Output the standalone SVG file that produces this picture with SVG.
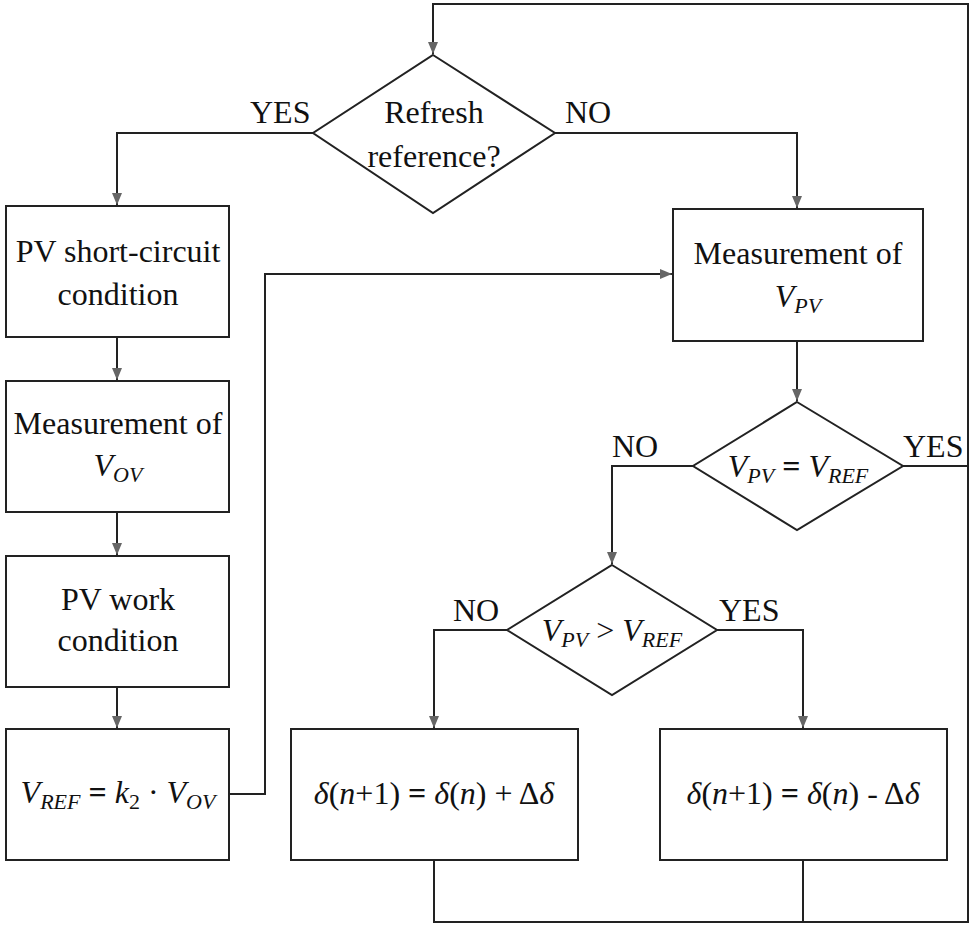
<svg xmlns="http://www.w3.org/2000/svg" width="975" height="928" viewBox="0 0 975 928">
<style>
.box{fill:#fff;stroke:#222;stroke-width:2}
.dia{fill:#fff;stroke:#222;stroke-width:2}
.ln{fill:none;stroke:#222;stroke-width:2}
.c{text-anchor:middle}
.i{font-style:italic}
.sub{font-style:italic;font-size:22px}
.eq{font-weight:bold}
</style>
<rect width="975" height="928" fill="#fff"/>
<g id="connectors">
<path class="ln" d="M434,860 V922 H968 V4 H433 V54"/>
<path class="ln" d="M803,860 V922"/>
<path class="ln" d="M903,466 H968"/>
<path class="ln" d="M313,133 H117 V205"/>
<path class="ln" d="M555,133 H797 V208"/>
<path class="ln" d="M117,337 V380"/>
<path class="ln" d="M117,512 V555"/>
<path class="ln" d="M117,687 V728"/>
<path class="ln" d="M229,794 H265 V274 H672"/>
<path class="ln" d="M797,341 V401"/>
<path class="ln" d="M693,466 H612 V564"/>
<path class="ln" d="M507,630 H434 V728"/>
<path class="ln" d="M717,630 H803 V728"/>
<g fill="#666">
<path d="M428,42 L438,42 L433,54 Z"/>
<path d="M112,193 L122,193 L117,205 Z"/>
<path d="M792,196 L802,196 L797,208 Z"/>
<path d="M112,368 L122,368 L117,380 Z"/>
<path d="M112,543 L122,543 L117,555 Z"/>
<path d="M112,716 L122,716 L117,728 Z"/>
<path d="M660,269 L660,279 L672,274 Z"/>
<path d="M792,389 L802,389 L797,401 Z"/>
<path d="M607,552 L617,552 L612,564 Z"/>
<path d="M429,716 L439,716 L434,728 Z"/>
<path d="M798,716 L808,716 L803,728 Z"/>
</g>
</g>
<g font-family="Liberation Serif, DejaVu Serif, serif" font-size="32" fill="#111">
<g id="d1">
<polygon class="dia" points="433,55 555,133 433,213 313,133"/>
<text class="c" x="434" y="123">Refresh</text>
<text class="c" x="434" y="167">reference?</text>
</g>
<g id="lbl-d1-yes"><text x="250" y="123">YES</text></g>
<g id="lbl-d1-no"><text x="565" y="123">NO</text></g>
<g id="b1">
<rect class="box" x="6" y="206" width="223" height="131"/>
<text class="c" x="118" y="262">PV short-circuit</text>
<text class="c" x="118" y="305">condition</text>
</g>
<g id="b2">
<rect class="box" x="6" y="381" width="223" height="131"/>
<text class="c" x="118" y="434">Measurement of</text>
<text class="c" x="118" y="476"><tspan class="i">V</tspan><tspan class="sub" dy="6">OV</tspan></text>
</g>
<g id="b3">
<rect class="box" x="6" y="556" width="223" height="131"/>
<text class="c" x="118" y="610">PV work</text>
<text class="c" x="118" y="651">condition</text>
</g>
<g id="b4">
<rect class="box" x="6" y="729" width="223" height="131"/>
<text class="c" x="118" y="803"><tspan class="i">V</tspan><tspan class="sub" dy="6">REF</tspan><tspan dy="-6"> </tspan><tspan class="eq">=</tspan><tspan> </tspan><tspan class="i">k</tspan><tspan font-size="22" dy="6">2</tspan><tspan dy="-6"> · </tspan><tspan class="i">V</tspan><tspan class="sub" dy="6">OV</tspan></text>
</g>
<g id="mv">
<rect class="box" x="673" y="209" width="250" height="132"/>
<text class="c" x="798" y="264">Measurement of</text>
<text class="c" x="798" y="307"><tspan class="i">V</tspan><tspan class="sub" dy="6">PV</tspan></text>
</g>
<g id="d2">
<polygon class="dia" points="797,402 903,466 797,530 693,466"/>
<text class="c" x="798" y="477"><tspan class="i">V</tspan><tspan class="sub" dy="6">PV</tspan><tspan dy="-6"> </tspan><tspan class="eq">=</tspan><tspan> </tspan><tspan class="i">V</tspan><tspan class="sub" dy="6">REF</tspan></text>
</g>
<g id="lbl-d2-no"><text x="612" y="457">NO</text></g>
<g id="lbl-d2-yes"><text x="903" y="457">YES</text></g>
<g id="d3">
<polygon class="dia" points="612,565 717,630 612,695 507,630"/>
<text class="c" x="612" y="641"><tspan class="i">V</tspan><tspan class="sub" dy="6">PV</tspan><tspan dy="-6"> &gt; </tspan><tspan class="i">V</tspan><tspan class="sub" dy="6">REF</tspan></text>
</g>
<g id="lbl-d3-no"><text x="453" y="621">NO</text></g>
<g id="lbl-d3-yes"><text x="719" y="621">YES</text></g>
<g id="b5">
<rect class="box" x="291" y="729" width="287" height="131"/>
<text class="c" x="434" y="804"><tspan class="i">δ</tspan>(<tspan class="i">n</tspan>+1) <tspan class="eq">=</tspan> <tspan class="i">δ</tspan>(<tspan class="i">n</tspan>) + Δ<tspan class="i">δ</tspan></text>
</g>
<g id="b6">
<rect class="box" x="660" y="729" width="287" height="131"/>
<text class="c" x="803" y="804"><tspan class="i">δ</tspan>(<tspan class="i">n</tspan>+1) <tspan class="eq">=</tspan> <tspan class="i">δ</tspan>(<tspan class="i">n</tspan>) - Δ<tspan class="i">δ</tspan></text>
</g>
</g>
</svg>
